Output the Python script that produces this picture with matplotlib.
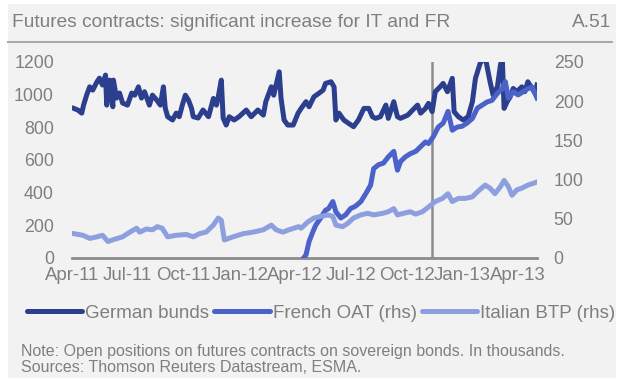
"""
Open positions on sovereign bond futures (German, French, Italian), Apr-2011 to Apr-2013.
German bunds on the left axis, French OAT and Italian BTP on the right axis.
"""

import numpy as np
import matplotlib
matplotlib.use("Agg")
import matplotlib.pyplot as plt
import matplotlib.dates as mdates
from matplotlib.patches import Rectangle
from matplotlib.lines import Line2D

plt.rcParams["font.family"] = ["Liberation Sans", "DejaVu Sans"]

BASE_DATE = np.datetime64("2011-04-04")
EVENT_DAY = 587  # vertical marker, mid-Nov 2012

# German bunds (left axis, thousands) - day offsets from BASE_DATE
de_days = [0, 7, 13, 16, 21, 26, 31, 38, 42, 47, 52, 54, 59, 64, 65, 70, 75, 80,
           88, 95, 100, 106, 111, 116, 124, 129, 136, 142, 147, 150, 154, 162,
           168, 173, 178, 183, 188, 193, 196, 204, 212, 221, 229, 234, 237, 242,
           245, 250, 255, 263, 271, 283, 291, 302, 311, 315, 324, 328, 337, 340,
           345, 351, 360, 368, 373, 381, 386, 394, 402, 409, 413, 422, 427, 430,
           435, 443, 451, 459, 467, 476, 484, 490, 495, 503, 512, 516, 525, 531,
           536, 548, 556, 564, 569, 577, 582, 588, 593, 601, 606, 613, 621, 624,
           631, 639, 647, 654, 659, 667, 675, 683, 688, 695, 700, 703, 706, 711,
           716, 721, 727, 735, 740, 745, 752, 757, 760]
de_vals = [916, 905, 887, 936, 997, 1048, 1028, 1079, 1101, 1059, 1120, 936, 1089,
           926, 1089, 979, 1010, 949, 936, 1010, 997, 1048, 979, 1018, 936, 997,
           967, 936, 1048, 918, 865, 845, 887, 865, 936, 997, 967, 918, 865, 857,
           906, 865, 977, 936, 987, 1089, 857, 814, 865, 845, 865, 906, 865, 906,
           875, 957, 1048, 997, 1140, 977, 845, 814, 814, 887, 916, 957, 926, 987,
           1008, 1028, 1069, 1079, 1048, 845, 887, 845, 824, 804, 845, 916, 916,
           865, 855, 865, 936, 855, 957, 865, 855, 875, 906, 936, 887, 916, 947,
           896, 1018, 1048, 1069, 1018, 1100, 896, 865, 845, 865, 957, 1100, 1195,
           1230, 1079, 997, 1048, 1181, 1230, 916, 957, 987, 1038, 1018, 1048,
           1018, 1079, 1038, 1008, 1059]

# French OAT (right axis) - contract starts trading in Apr-2012
fr_days = [377, 381, 386, 392, 397, 405, 413, 418, 425, 430, 438, 446, 454, 462,
           471, 479, 487, 492, 500, 508, 516, 525, 531, 536, 544, 552, 561, 569,
           577, 582, 590, 598, 606, 614, 621, 629, 637, 645, 654, 662, 670, 678,
           686, 695, 703, 708, 713, 721, 729, 737, 745, 752, 760]
fr_vals = [0, 4, 21, 33, 42, 51, 61, 63, 72, 59, 51, 55, 63, 66, 72, 82, 93, 114,
           119, 121, 129, 136, 112, 123, 129, 133, 136, 142, 148, 146, 155, 167,
           172, 187, 163, 167, 168, 172, 178, 191, 195, 199, 201, 210, 216, 225,
           204, 212, 208, 212, 216, 218, 204]

# Italian BTP (right axis)
it_days = [0, 15, 26, 38, 47, 56, 67, 80, 92, 103, 108, 119, 129, 137, 145, 154,
           168, 185, 196, 206, 217, 229, 237, 242, 247, 261, 278, 294, 311, 324,
           332, 343, 353, 369, 373, 384, 394, 405, 417, 425, 430, 441, 449, 459,
           471, 482, 492, 507, 516, 525, 531, 541, 552, 561, 572, 582, 593, 605,
           614, 621, 631, 642, 654, 663, 675, 683, 691, 700, 706, 713, 719, 727,
           735, 745, 753, 760]
it_vals = [31, 29, 25, 27, 29, 21, 24, 27, 33, 38, 33, 37, 36, 40, 38, 27, 29, 30,
           27, 31, 33, 42, 51, 48, 23, 27, 31, 33, 36, 42, 36, 33, 36, 40, 38, 46,
           51, 53, 55, 53, 42, 40, 44, 51, 55, 57, 55, 57, 59, 63, 55, 57, 59, 56,
           59, 65, 72, 76, 82, 72, 76, 76, 78, 85, 93, 89, 82, 91, 99, 91, 80, 87,
           89, 93, 95, 97]

X_TICKS = ["2011-04-01", "2011-07-01", "2011-10-01", "2012-01-01", "2012-04-01",
           "2012-07-01", "2012-10-01", "2013-01-01", "2013-04-01"]
LEFT_TICKS = [0, 200, 400, 600, 800, 1000, 1200]
RIGHT_TICKS = [0, 50, 100, 150, 200, 250]

C_DE = "#2c3f8e"
C_FR = "#4a62c9"
C_IT = "#8e9fe0"
GREY_TXT = "#7f7f7f"
GREY_LINE = "#8c8c8c"
BG = "#f2f2f2"
LW = 3.6


def to_dates(days):
    return BASE_DATE + np.array(days, dtype="timedelta64[D]")


W, H = 623, 378
fig = plt.figure(figsize=(W / 100, H / 100), dpi=100, facecolor="white")

# grey panel behind everything
fig.patches.append(Rectangle((8 / W, 0), 608 / W, 1 - 4 / H,
                             transform=fig.transFigure, facecolor=BG,
                             edgecolor="none", zorder=-10))

fig.text(12 / W, 1 - 27 / H, "Futures contracts: significant increase for IT and FR",
         fontsize=13.8, color=GREY_TXT, va="baseline", ha="left")
fig.text(611 / W, 1 - 27 / H, "A.51", fontsize=13.8, color=GREY_TXT,
         va="baseline", ha="right")
fig.add_artist(Line2D([8 / W, 612 / W], [1 - 41.5 / H] * 2,
                      transform=fig.transFigure, color="#a6a6a6", linewidth=1.4))

ax = fig.add_axes([72 / W, 1 - 258 / H, 465 / W, 196 / H])
ax.set_facecolor("none")
ax2 = ax.twinx()

ax.plot(to_dates(de_days), de_vals, color=C_DE, linewidth=LW,
        solid_joinstyle="round", label="German bunds")
ax2.plot(to_dates(fr_days), fr_vals, color=C_FR, linewidth=LW,
         solid_joinstyle="round", label="French OAT (rhs)")
ax2.plot(to_dates(it_days), it_vals, color=C_IT, linewidth=LW,
         solid_joinstyle="round", label="Italian BTP (rhs)")

ax.axvline(to_dates([EVENT_DAY])[0], color=GREY_LINE, linewidth=1.8, zorder=1)

ax.set_xlim(np.datetime64("2011-04-01"), to_dates([760])[0])
ax.set_ylim(0, 1200)
ax2.set_ylim(0, 250)

ax.set_xticks([np.datetime64(d) for d in X_TICKS])
ax.xaxis.set_major_formatter(mdates.DateFormatter("%b-%y"))
ax.set_yticks(LEFT_TICKS)
ax2.set_yticks(RIGHT_TICKS)

for a in (ax, ax2):
    for side in ("top", "left", "right"):
        a.spines[side].set_visible(False)
    a.spines["bottom"].set_color(GREY_LINE)
    a.spines["bottom"].set_linewidth(2)
    a.tick_params(length=0, labelsize=12.8, labelcolor=GREY_TXT)
ax2.spines["bottom"].set_visible(False)
ax.tick_params(axis="y", pad=13)
ax2.tick_params(axis="y", pad=12)
ax.tick_params(axis="x", pad=6.5, labelsize=13.4)

handles = [Line2D([], [], color=c, linewidth=LW, solid_capstyle="round")
           for c in (C_DE, C_FR, C_IT)]
labels = ["German bunds", "French OAT (rhs)", "Italian BTP (rhs)"]
leg = fig.legend(handles, labels, loc="center", ncol=3, frameon=False,
                 bbox_to_anchor=(321 / W, 1 - 313 / H), fontsize=13.5,
                 handlelength=2.95, handletextpad=0.15, columnspacing=0.3,
                 borderaxespad=0, borderpad=0)
for t in leg.get_texts():
    t.set_color(GREY_TXT)

fig.text(21 / W, 1 - 356 / H,
         "Note: Open positions on futures contracts on sovereign bonds. In thousands.",
         fontsize=11.5, color=GREY_TXT, va="baseline")
fig.text(21 / W, 1 - 372 / H, "Sources: Thomson Reuters Datastream, ESMA.",
         fontsize=11.5, color=GREY_TXT, va="baseline")

fig.savefig("out.png", dpi=100, facecolor=fig.get_facecolor())
